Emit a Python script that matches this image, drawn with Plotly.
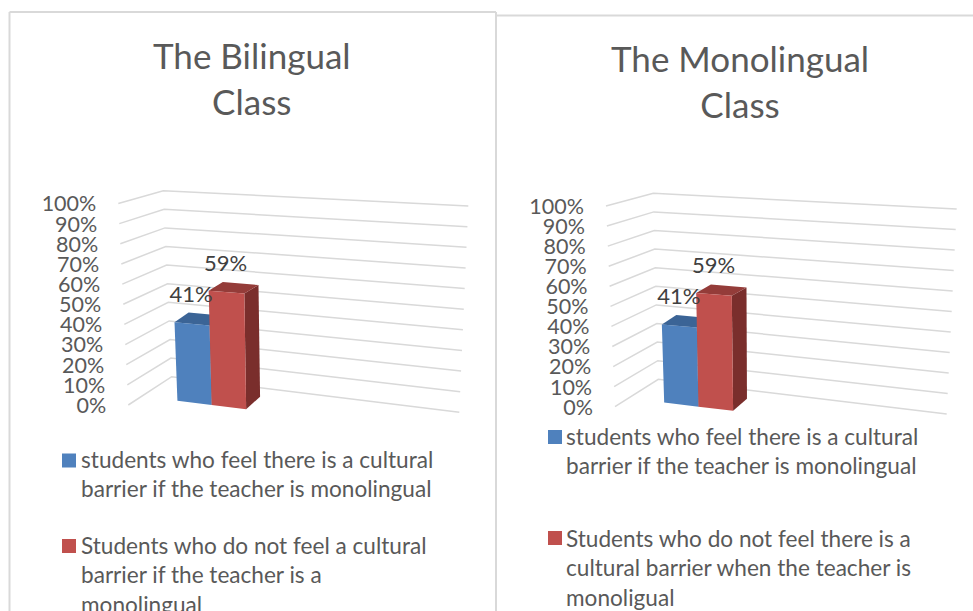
import plotly.graph_objects as go

# ---- data ----
PERCENT_TICKS = [0, 10, 20, 30, 40, 50, 60, 70, 80, 90, 100]
BILINGUAL_VALUES = [41, 59]
MONOLINGUAL_VALUES = [41, 59]
BILINGUAL_TITLE = "The Bilingual<br>Class"
MONOLINGUAL_TITLE = "The Monolingual<br>Class"
BILINGUAL_LEGEND = [
    "students who feel there is a cultural<br>barrier if the teacher is monolingual",
    "Students who do not feel a cultural<br>barrier if the teacher is a<br>monolingual",
]
MONOLINGUAL_LEGEND = [
    "students who feel there is a cultural<br>barrier if the teacher is monolingual",
    "Students who do not feel there is a<br>cultural barrier when the teacher is<br>monoligual",
]

# ---- styles ----
FONT = "Lato"
TEXT = "#595959"
GRID = "#d9d9d9"
FACE = [("#4f81bd", "#3b6496", "#34577f"), ("#c0504d", "#943c39", "#7a2e2c")]
W, H = 973, 611

# Oblique frame of each panel: (at 0 %, at 100 %) for the left end, inner corner and right end of a gridline
PANELS = [
    dict(values=BILINGUAL_VALUES, title=BILINGUAL_TITLE, legend=BILINGUAL_LEGEND,
         left=((128.3, 405), (118.3, 203.5)), corner=((171.7, 376.7), (163.3, 190.7)),
         right=((459.3, 412.3), (468.3, 206)), title_xy=(252, 78), tick_dx=-22,
         swatch=[(69, 460.5), (69, 546)], text_xy=[(81, 451), (81, 537)]),
    dict(values=MONOLINGUAL_VALUES, title=MONOLINGUAL_TITLE, legend=MONOLINGUAL_LEGEND,
         left=((615, 406.7), (606, 206)), corner=((658.3, 379.3), (653.3, 193.3)),
         right=((946.7, 414), (956.7, 209)), title_xy=(740, 81), tick_dx=-22,
         swatch=[(555, 437), (555, 538)], text_xy=[(566, 428), (566, 530)]),
]
BAR_S_FRONT = [0.124, 0.243, 0.363]   # bar edges along the wall, front of bars
BAR_S_BACK = [0.109, 0.228, 0.348]    # same edges at the back (perspective)
BAR_D = (0.27, 0.69)                  # back / front position in depth
BAR_SCALE = 0.96


def lerp(a, b, t):
    return a + (b - a) * t


def project(p, s, d, pct):
    v = pct / 100
    out = []
    for i in (0, 1):
        c = lerp(p["corner"][0][i], p["corner"][1][i], v)
        r = lerp(p["right"][0][i], p["right"][1][i], v)
        l = lerp(p["left"][0][i], p["left"][1][i], v)
        out.append(c + s * (r - c) + d * (l - c))
    return out


def poly(points, color):
    xs = [q[0] for q in points] + [points[0][0]]
    ys = [q[1] for q in points] + [points[0][1]]
    return go.Scatter(x=xs, y=ys, mode="lines", fill="toself", fillcolor=color,
                      line=dict(width=0, color=color), hoverinfo="skip", showlegend=False)


fig = go.Figure()
annotations = []
for p in PANELS:
    # gridlines
    for t in PERCENT_TICKS:
        pts = [project(p, 0, 1, t), project(p, 0, 0, t), project(p, 1, 0, t)]
        fig.add_trace(go.Scatter(x=[q[0] for q in pts], y=[q[1] for q in pts], mode="lines",
                                 line=dict(color=GRID, width=1.5), hoverinfo="skip", showlegend=False))
    # axis labels
    lx = [project(p, 0, 1, t)[0] + p["tick_dx"] for t in PERCENT_TICKS]
    ly = [project(p, 0, 1, t)[1] + 2.5 for t in PERCENT_TICKS]
    fig.add_trace(go.Scatter(x=lx, y=ly, mode="text", text=[f"{t}%" for t in PERCENT_TICKS],
                             textposition="middle left", textfont=dict(family=FONT, size=21.5, color=TEXT),
                             hoverinfo="skip", showlegend=False))
    # bars
    for i, val in enumerate(p["values"]):
        h = val * BAR_SCALE
        f0, f1 = BAR_S_FRONT[i], BAR_S_FRONT[i + 1]
        b0, b1 = BAR_S_BACK[i], BAR_S_BACK[i + 1]
        db, df = BAR_D
        front, top, side = FACE[i]
        fig.add_trace(poly([project(p, f1, df, 0), project(p, b1, db, 0),
                            project(p, b1, db, h), project(p, f1, df, h)], side))
        fig.add_trace(poly([project(p, f0, df, h), project(p, f1, df, h),
                            project(p, b1, db, h), project(p, b0, db, h)], top))
        fig.add_trace(poly([project(p, f0, df, 0), project(p, f1, df, 0),
                            project(p, f1, df, h), project(p, f0, df, h)], front))
    # data labels
    for i, val in enumerate(p["values"]):
        h = val * BAR_SCALE
        q = project(p, (BAR_S_BACK[i] + BAR_S_BACK[i + 1]) / 2, BAR_D[0], h)
        fig.add_trace(go.Scatter(x=[q[0] - 15], y=[q[1] - 7], mode="text", text=[f"{val}%"],
                                 textposition="top center", textfont=dict(family=FONT, size=22, color="#404040"),
                                 hoverinfo="skip", showlegend=False))
    # legend entries
    for i, label in enumerate(p["legend"]):
        fig.add_trace(go.Scatter(x=[p["swatch"][i][0]], y=[p["swatch"][i][1]], mode="markers",
                                 marker=dict(symbol="square", size=14, color=FACE[i][0]),
                                 hoverinfo="skip", showlegend=False))
        fig.add_trace(go.Scatter(x=[p["text_xy"][i][0]], y=[p["text_xy"][i][1]], mode="text", text=[label],
                                 textposition="bottom right", textfont=dict(family=FONT, size=22.6, color=TEXT),
                                 hoverinfo="skip", showlegend=False))
    annotations.append(dict(x=p["title_xy"][0], y=p["title_xy"][1], xref="x", yref="y", text=p["title"],
                            showarrow=False, align="center", xanchor="center", yanchor="middle",
                            font=dict(family=FONT, size=35, color=TEXT)))

shapes = [
    dict(type="line", xref="x", yref="y", x0=9.5, y0=611, x1=9.5, y1=12, line=dict(color=GRID, width=2), layer="below"),
    dict(type="line", xref="x", yref="y", x0=9.5, y0=12, x1=496, y1=12, line=dict(color=GRID, width=2), layer="below"),
    dict(type="line", xref="x", yref="y", x0=496, y0=12, x1=496, y1=611, line=dict(color=GRID, width=2), layer="below"),
    dict(type="line", xref="x", yref="y", x0=497, y0=15.5, x1=973, y1=15.5, line=dict(color=GRID, width=2), layer="below"),
]

fig.update_layout(
    width=W, height=H, margin=dict(l=0, r=0, t=0, b=0), paper_bgcolor="white", plot_bgcolor="white",
    xaxis=dict(range=[0, W], visible=False, fixedrange=True),
    yaxis=dict(range=[H, 0], visible=False, fixedrange=True),
    annotations=annotations, shapes=shapes, showlegend=False,
)
fig.write_html("out.html", post_script="document.body.style.margin='0';document.body.style.overflow='hidden';",
               config={"displayModeBar": False})
